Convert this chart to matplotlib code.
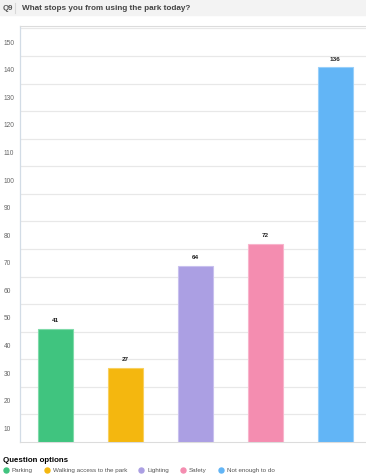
import matplotlib.pyplot as plt
from matplotlib.patches import Rectangle
from matplotlib.lines import Line2D

plt.rcParams['font.family'] = ['Liberation Sans', 'DejaVu Sans']

categories = ["Parking", "Walking access to the park", "Lighting", "Safety", "Not enough to do"]
values = [41, 27, 64, 72, 136]
colors = ["#40c47f", "#f4b70f", "#ab9fe3", "#f48db0", "#62b5f6"]
edge_colors = ["#7fdaa9", "#f8d060", "#c8c0ee", "#f8b4cc", "#98cffa"]
grid_values = list(range(10, 151, 10))
tick_labels = [str(v) for v in grid_values]

W, H = 366, 475
fig = plt.figure(figsize=(W / 100, H / 100), dpi=100)

# header band
fig.patches.append(Rectangle((0, 1 - 15 / H), 1, 15 / H, transform=fig.transFigure,
                             color="#f3f3f3", zorder=0))
fig.add_artist(Line2D([15 / W, 15 / W], [1 - 3 / H, 1 - 13 / H], transform=fig.transFigure,
                      color="#d8d8d8", lw=0.8))
fig.text(3 / W, 1 - 8 / H, "Q9", fontsize=5.6, fontweight="bold", color="#555555", va="center")
fig.text(22 / W, 1 - 8 / H, "What stops you from using the park today?", fontsize=5.9,
         fontweight="bold", color="#444444", va="center")

# plot area (extends a little past the right edge, as in the reference crop)
left, right, top, bottom = 20, 370, 26, 442
ax = fig.add_axes([left / W, 1 - bottom / H, (right - left) / W, (bottom - top) / H])

x = list(range(len(categories)))
ax.bar(x, values, width=0.5, color=colors, edgecolor=edge_colors, linewidth=0.8, zorder=3)
for xi, v in zip(x, values):
    ax.annotate(str(v), (xi, v), xytext=(0, 4), textcoords="offset points",
                ha="center", va="bottom", fontsize=4.6, fontweight="bold", color="#222222")

ax.set_xlim(-0.5, len(categories) - 0.5)
ax.set_ylim(0, 150.9)

# gridlines on multiples of 10, labels sit between them
ax.set_yticks(grid_values, minor=True)
ax.set_yticks([v - 5 for v in grid_values])
ax.set_yticklabels(tick_labels, fontsize=4.8, color="#666666", ha="left")
ax.tick_params(axis="y", which="both", length=0, pad=11.5)
ax.grid(axis="y", which="minor", color="#e8e8e8", linewidth=0.9, zorder=0)
ax.set_xticks([])

for side in ["top", "bottom"]:
    ax.spines[side].set_color("#dcdcdc")
    ax.spines[side].set_linewidth(0.8)
ax.spines["left"].set_color("#d2dce6")
ax.spines["left"].set_linewidth(0.9)
ax.spines["right"].set_visible(False)

# legend
handles = [Line2D([], [], marker="o", linestyle="", markersize=3.6, color=c) for c in colors]
leg = fig.legend(handles, categories, loc="upper left", bbox_to_anchor=(2 / W, 1 - 456 / H),
                 ncol=5, frameon=False, fontsize=4.5, handlelength=0.8, handletextpad=0.55,
                 columnspacing=1.85, borderaxespad=0, borderpad=0.2,
                 title="Question options", alignment="left",
                 title_fontproperties={"size": 5.7, "weight": "bold"})
for t in leg.get_texts():
    t.set_color("#555555")

fig.savefig("out.png", dpi=100)
